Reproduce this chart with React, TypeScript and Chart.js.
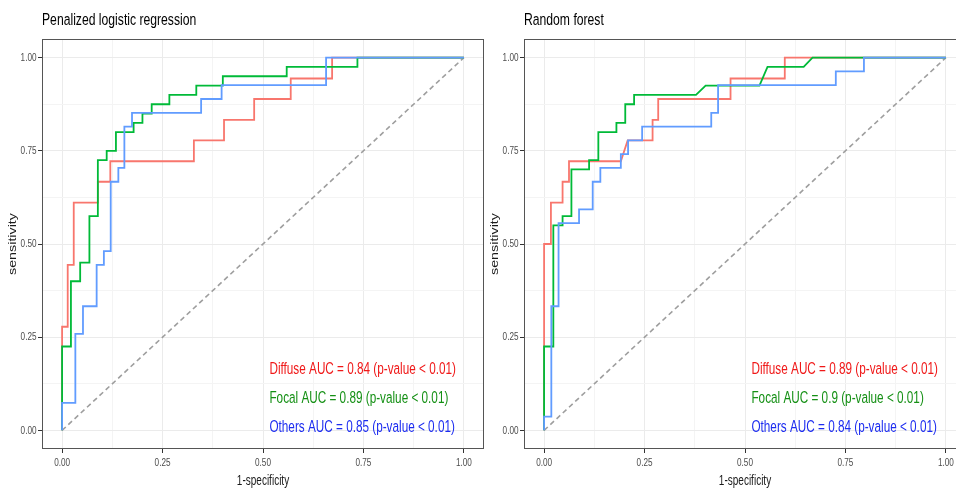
import React, { useEffect, useRef } from "react";
import { Chart, registerables } from "chart.js";

Chart.register(...registerables);

const FONT = "'Liberation Sans', Arial, Helvetica, sans-serif";
const TEXT_SQUEEZE = 0.7; // glyphs in the reference are horizontally condensed

// ---------- data ----------
const seriesNames = ["Diffuse", "Focal", "Others"];
const lineColors = ["#F8766D", "#00BA38", "#619CFF"];
const textColors = ["#F01818", "#159015", "#1C2CF0"];
const tickValues = [0, 0.125, 0.25, 0.375, 0.5, 0.625, 0.75, 0.875, 1];
const majorTicks = [0, 0.25, 0.5, 0.75, 1];
const diagFpr = [0, 1];
const diagTpr = [0, 1];

const plrTitle = "Penalized logistic regression";
const plrAuc = [0.84, 0.89, 0.85];
const plrDiffuseFpr = [0, 0, 0.014, 0.014, 0.029, 0.029, 0.089, 0.089, 0.12, 0.12, 0.328, 0.328, 0.403, 0.403, 0.478, 0.478, 0.569, 0.569, 0.672, 0.672, 1];
const plrDiffuseTpr = [0, 0.278, 0.278, 0.444, 0.444, 0.611, 0.611, 0.667, 0.667, 0.722, 0.722, 0.778, 0.778, 0.833, 0.833, 0.889, 0.889, 0.944, 0.944, 1, 1];
const plrFocalFpr = [0, 0, 0.022, 0.022, 0.045, 0.045, 0.068, 0.068, 0.089, 0.089, 0.111, 0.111, 0.134, 0.134, 0.178, 0.178, 0.2, 0.2, 0.223, 0.223, 0.267, 0.267, 0.334, 0.334, 0.4, 0.4, 0.559, 0.559, 0.735, 0.735, 1];
const plrFocalTpr = [0, 0.225, 0.225, 0.4, 0.4, 0.45, 0.45, 0.575, 0.575, 0.725, 0.725, 0.75, 0.75, 0.8, 0.8, 0.825, 0.825, 0.85, 0.85, 0.875, 0.875, 0.9, 0.9, 0.925, 0.925, 0.95, 0.95, 0.975, 0.975, 1, 1];
const plrOthersFpr = [0, 0, 0.033, 0.033, 0.052, 0.052, 0.086, 0.086, 0.104, 0.104, 0.121, 0.121, 0.14, 0.14, 0.155, 0.155, 0.174, 0.174, 0.346, 0.346, 0.397, 0.397, 0.657, 0.657, 1];
const plrOthersTpr = [0, 0.074, 0.074, 0.259, 0.259, 0.333, 0.333, 0.444, 0.444, 0.481, 0.481, 0.667, 0.667, 0.704, 0.704, 0.815, 0.815, 0.852, 0.852, 0.889, 0.889, 0.926, 0.926, 1, 1];

const rfTitle = "Random forest";
const rfAuc = [0.89, 0.9, 0.84];
const rfDiffuseFpr = [0, 0, 0.017, 0.017, 0.046, 0.046, 0.062, 0.062, 0.191, 0.208, 0.27, 0.27, 0.284, 0.284, 0.464, 0.464, 0.599, 0.599, 1];
const rfDiffuseTpr = [0, 0.5, 0.5, 0.611, 0.611, 0.667, 0.667, 0.722, 0.722, 0.778, 0.778, 0.833, 0.833, 0.889, 0.889, 0.944, 0.944, 1, 1];
const rfFocalFpr = [0, 0, 0.023, 0.023, 0.046, 0.046, 0.068, 0.068, 0.112, 0.112, 0.135, 0.135, 0.18, 0.18, 0.202, 0.202, 0.224, 0.224, 0.378, 0.402, 0.536, 0.556, 0.646, 0.668, 1];
const rfFocalTpr = [0, 0.225, 0.225, 0.55, 0.55, 0.575, 0.575, 0.7, 0.7, 0.725, 0.725, 0.8, 0.8, 0.825, 0.825, 0.875, 0.875, 0.9, 0.9, 0.925, 0.925, 0.975, 0.975, 1, 1];
const rfOthersFpr = [0, 0, 0.018, 0.018, 0.036, 0.036, 0.087, 0.087, 0.121, 0.121, 0.14, 0.14, 0.191, 0.191, 0.209, 0.209, 0.244, 0.244, 0.416, 0.416, 0.433, 0.433, 0.726, 0.726, 0.796, 0.796, 1];
const rfOthersTpr = [0, 0.037, 0.037, 0.333, 0.333, 0.556, 0.556, 0.593, 0.593, 0.667, 0.667, 0.704, 0.704, 0.741, 0.741, 0.778, 0.778, 0.815, 0.815, 0.852, 0.852, 0.926, 0.926, 0.963, 0.963, 1, 1];

const labelX = 0.516;
const labelY = [0.164, 0.087, 0.007];

// ---------- helpers ----------
function zip(fpr: number[], tpr: number[]) {
  return fpr.map((x, i) => ({ x, y: tpr[i] }));
}

// Render all canvas text horizontally condensed (as in the reference image).
function condenseText(canvas: HTMLCanvasElement, k: number) {
  const ctx = canvas.getContext("2d") as any;
  if (!ctx || ctx.__condensed) return;
  const orig = ctx.fillText.bind(ctx);
  ctx.fillText = function (text: string, x: number, y: number, maxWidth?: number) {
    const m = ctx.getTransform();
    const rotated = Math.abs(m.b) > Math.abs(m.a);
    ctx.save();
    ctx.translate(x, y);
    if (rotated) {
      ctx.scale(1, k);
      if (maxWidth !== undefined) orig(text, 0, 0, maxWidth);
      else orig(text, 0, 0);
    } else {
      ctx.scale(k, 1);
      if (maxWidth !== undefined) orig(text, 0, 0, maxWidth / k);
      else orig(text, 0, 0);
    }
    ctx.restore();
  };
  ctx.__condensed = true;
}

const panelPlugin = {
  id: "panelDecor",
  afterDatasetsDraw(chart: any, _args: any, opts: any) {
    const { ctx, chartArea: a, scales } = chart;
    ctx.save();
    ctx.strokeStyle = "#555555";
    ctx.lineWidth = 1;
    ctx.strokeRect(a.left + 0.5, a.top + 0.5, a.right - a.left - 1, a.bottom - a.top - 1);
    ctx.textAlign = "left";
    ctx.textBaseline = "middle";
    ctx.fillStyle = "#000000";
    ctx.font = `17.4px ${FONT}`;
    ctx.fillText(opts.title, a.left, 20);
    ctx.font = `16.8px ${FONT}`;
    (opts.labels as string[]).forEach((t, i) => {
      ctx.fillStyle = textColors[i];
      ctx.fillText(t, scales.x.getPixelForValue(labelX), scales.y.getPixelForValue(labelY[i]));
    });
    ctx.restore();
  },
};

function axisOpts(axis: "x" | "y", titleText: string) {
  return {
    type: "linear",
    min: -0.05,
    max: 1.05,
    afterBuildTicks: (s: any) => {
      s.ticks = tickValues.map((v) => ({ value: v }));
    },
    afterFit: (s: any) => {
      if (axis === "x") s.height = 41;
      else s.width = 42;
    },
    ticks: {
      autoSkip: false,
      maxRotation: 0,
      padding: axis === "x" ? 3 : 1.5,
      color: "#4D4D4D",
      font: { size: 11.7, family: FONT },
      callback: (v: number) => (majorTicks.includes(v) ? v.toFixed(2) : ""),
    },
    grid: {
      color: (c: any) => (majorTicks.includes(c.tick?.value) ? "#EBEBEB" : "#F4F4F4"),
      lineWidth: 1,
      tickLength: 4,
      tickWidth: 1,
      tickColor: (c: any) => (majorTicks.includes(c.tick?.value) ? "#333333" : "rgba(0,0,0,0)"),
    },
    border: { display: false },
    title: {
      display: true,
      text: titleText,
      color: "#1A1A1A",
      font: { size: 14.3, family: FONT },
      padding: axis === "x" ? { top: 0, bottom: 0.5 } : { top: 4.7, bottom: 0 },
    },
  };
}

function makeConfig(title: string, curves: [number[], number[]][], aucs: number[]) {
  const datasets: any[] = curves.map(([fpr, tpr], i) => ({
    label: seriesNames[i],
    data: zip(fpr, tpr),
    borderColor: lineColors[i],
    backgroundColor: lineColors[i],
    borderWidth: 1.8,
    pointRadius: 0,
    tension: 0,
    fill: false,
    order: 3 - i,
  }));
  datasets.push({
    label: "reference",
    data: zip(diagFpr, diagTpr),
    borderColor: "#9E9E9E",
    borderWidth: 1.6,
    borderDash: [5, 3.5],
    pointRadius: 0,
    fill: false,
    order: 10,
  });
  const labels = seriesNames.map((n, i) => `${n} AUC = ${aucs[i]} (p-value < 0.01)`);
  return {
    type: "line",
    data: { datasets },
    options: {
      animation: false,
      responsive: false,
      events: [],
      layout: { padding: { top: 39, left: 0, right: 6, bottom: 0 } },
      plugins: {
        legend: { display: false },
        tooltip: { enabled: false },
        panelDecor: { title, labels },
      },
      scales: {
        x: axisOpts("x", "1-specificity"),
        y: axisOpts("y", "sensitivity"),
      },
    },
    plugins: [panelPlugin],
  } as any;
}

export default function App() {
  const leftRef = useRef<HTMLCanvasElement>(null);
  const rightRef = useRef<HTMLCanvasElement>(null);

  useEffect(() => {
    Chart.defaults.font.family = FONT;
    const lc = leftRef.current as HTMLCanvasElement;
    const rc = rightRef.current as HTMLCanvasElement;
    condenseText(lc, TEXT_SQUEEZE);
    condenseText(rc, TEXT_SQUEEZE);
    const c1 = new Chart(
      lc,
      makeConfig(
        plrTitle,
        [
          [plrDiffuseFpr, plrDiffuseTpr],
          [plrFocalFpr, plrFocalTpr],
          [plrOthersFpr, plrOthersTpr],
        ],
        plrAuc
      )
    );
    const c2 = new Chart(
      rc,
      makeConfig(
        rfTitle,
        [
          [rfDiffuseFpr, rfDiffuseTpr],
          [rfFocalFpr, rfFocalTpr],
          [rfOthersFpr, rfOthersTpr],
        ],
        rfAuc
      )
    );
    return () => {
      c1.destroy();
      c2.destroy();
    };
  }, []);

  return (
    <div
      style={{
        position: "absolute",
        left: 0,
        top: 0,
        width: 956,
        height: 490,
        overflow: "hidden",
        background: "#FFFFFF",
      }}
    >
      <canvas ref={leftRef} width={490} height={490} style={{ position: "absolute", left: 0, top: 0 }} />
      <canvas ref={rightRef} width={490} height={490} style={{ position: "absolute", left: 482, top: 0 }} />
    </div>
  );
}
